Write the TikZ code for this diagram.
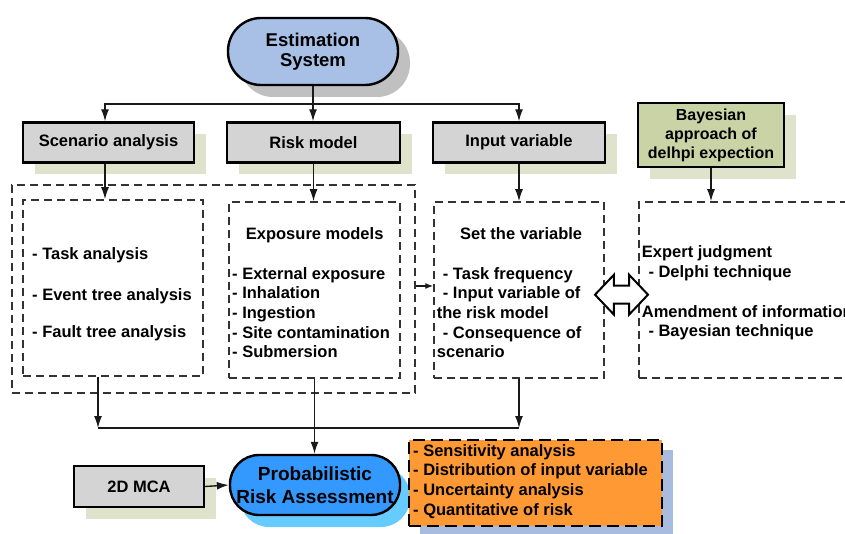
\documentclass[tikz,border=0pt]{standalone}
\usepackage{fontspec}
\setmainfont{Liberation Sans}
\usetikzlibrary{positioning, arrows.meta, shapes.arrows, shadows, calc}

\definecolor{estblue}{HTML}{A8BFE6}
\definecolor{estshade}{HTML}{C0C0C0}
\definecolor{boxgray}{HTML}{D4D4D4}
\definecolor{oliveshade}{HTML}{DFE3CC}
\definecolor{bayolive}{HTML}{CAD3A5}
\definecolor{prablue}{HTML}{3399FF}
\definecolor{prashade}{HTML}{66CCFF}
\definecolor{resorange}{HTML}{FF9933}
\definecolor{resshade}{HTML}{A8BCE0}

\begin{document}
\begin{tikzpicture}[x=1pt, y=-1pt,
  pill/.style={draw, line width=2.4pt, align=center, inner sep=2pt},
  gbox/.style={draw, line width=2.4pt, fill=boxgray, minimum height=40pt,
               align=center, font=\fontsize{16.5}{19}\selectfont\bfseries,
               drop shadow={shadow xshift=12pt, shadow yshift=-12pt,
                            fill=oliveshade, opacity=1, draw=none}},
  dbox/.style={draw=black!80, dash pattern=on 8pt off 5pt, line width=1.5pt},
  txt/.style={align=left, anchor=north west, inner sep=0pt,
              font=\fontsize{16.5}{19.7}\selectfont\bfseries},
  link/.style={line width=1.4pt, black!90},
  arr/.style={link, -{Latex[length=12pt, width=8pt]}},
]
  \useasboundingbox (0,0) rectangle (845,534);

  % ═══ Top: estimation system and the three branches ═══════════
  \node[pill, fill=estblue, minimum width=170pt, minimum height=67pt,
        rounded corners=33pt, font=\fontsize{18.5}{20}\selectfont\bfseries,
        drop shadow={shadow xshift=12pt, shadow yshift=-12pt, fill=estshade,
                     opacity=1, draw=none}] (est) at (313,51.5) {Estimation\\System};

  \node[gbox, minimum width=171pt] (sce)  at (108.5,142.5) {Scenario analysis};
  \node[gbox, minimum width=173pt] (risk) at (313.5,142.5) {Risk model};
  \node[gbox, minimum width=172pt] (inp)  at (519,142.5)   {Input variable};
  \node[gbox, fill=bayolive, minimum width=146pt, minimum height=64pt,
        font=\fontsize{16}{19}\selectfont\bfseries] (bay) at (711,135)
        {Bayesian\\approach of\\delhpi expection};

  % ═══ Middle: dashed content boxes ════════════════════════════
  \node[dbox, minimum width=403pt, minimum height=208pt] (grp)    at (213.5,289) {};
  \node[dbox, minimum width=180pt, minimum height=176pt] (sceIn)  at (113,288)   {};
  \node[dbox, minimum width=171pt, minimum height=176pt] (riskIn) at (314.5,290) {};
  \node[dbox, minimum width=170pt, minimum height=176pt] (inpIn)  at (519,290)   {};
  \node[dbox, minimum width=231pt, minimum height=176pt] (bayIn)  at (754.5,290) {};

  \node[txt] (sceTxt) at (32,247)
    {- Task analysis\\[22pt]- Event tree analysis\\[17pt]- Fault tree analysis};
  \node[txt] (riskTxt) at (232,227)
    {\hspace{13.7pt}Exposure models\\[20.3pt]- External exposure\\- Inhalation\\
     - Ingestion\\- Site contamination\\- Submersion};
  \node[txt] (inpTxt) at (436.7,227)
    {\hspace{23.3pt}Set the variable\\[20.3pt]\hspace{6pt}- Task frequency\\
     \hspace{6pt}- Input variable of\\the risk model\\
     \hspace{6pt}- Consequence of\\scenario};
  \node[txt] (bayTxt) at (641.7,245.7)
    {Expert judgment\\\hspace{6.6pt}- Delphi technique\\[20pt]
     Amendment of information\\\hspace{6.6pt}- Bayesian technique};

  \node[double arrow, draw, fill=white, line width=2pt, minimum height=53pt,
        minimum width=38pt, double arrow head extend=11pt, inner xsep=0pt,
        inner ysep=8pt, double arrow tip angle=93] (swap) at (621.5,294.7) {};

  % ═══ Bottom: assessment ══════════════════════════════════════
  \node[gbox, minimum width=130pt, minimum height=41pt] (mca) at (139,486.5) {2D MCA};
  \node[pill, fill=prablue, minimum width=170pt, minimum height=60pt,
        rounded corners=29pt, font=\fontsize{19}{23}\selectfont\bfseries,
        drop shadow={shadow xshift=10pt, shadow yshift=-12pt, fill=prashade,
                     opacity=1, draw=none}] (pra) at (315,485)
        {Probabilistic\\Risk Assessment};
  \node[draw, fill=resorange, line width=2.5pt, dash pattern=on 12pt off 6pt,
        minimum width=253pt, minimum height=86pt,
        drop shadow={shadow xshift=11pt, shadow yshift=-10pt, fill=resshade,
                     opacity=1, draw=none}] (res) at (535.5,483) {};
  \node[txt] (resTxt) at (413,444)
    {- Sensitivity analysis\\- Distribution of input variable\\
     - Uncertainty analysis\\- Quantitative of risk};

  % ═══ Links ═══════════════════════════════════════════════════
  \coordinate (split) at (313,104);
  \coordinate (bus)   at (314,428);
  \draw[link] (est.south) -- (split);
  \draw[arr] (split) -| ([xshift=-3.5pt]sce.north);
  \draw[arr] (split) -- (split |- risk.north);
  \draw[arr] (split) -| (inp.north);

  \draw[arr] ([xshift=-3.5pt]sce.south) -- ([xshift=-3.5pt]sce.south |- sceIn.north);
  \draw[arr] (risk.south) -- (risk.south |- riskIn.north);
  \draw[arr] (inp.south) -- (inpIn.north);
  \draw[arr] (bay.south) -- (bay.south |- bayIn.north);

  \draw[arr] ([xshift=-15pt]sceIn.south) -- ([xshift=-15pt]sceIn.south |- bus);
  \draw[link] ([xshift=-15pt]sceIn.south |- bus) -- (inpIn.south |- bus);
  \draw[arr] (inpIn.south) -- (inpIn.south |- bus);
  \draw[arr] (riskIn.south) -- (riskIn.south |- pra.north);
  \draw[arr] (mca.east) -- (pra.west);
  \draw[link, -{Latex[length=8pt, width=6pt]}] ([yshift=3pt]grp.east)
    -- ([yshift=3pt]grp.east -| inpIn.west);
\end{tikzpicture}
\end{document}
